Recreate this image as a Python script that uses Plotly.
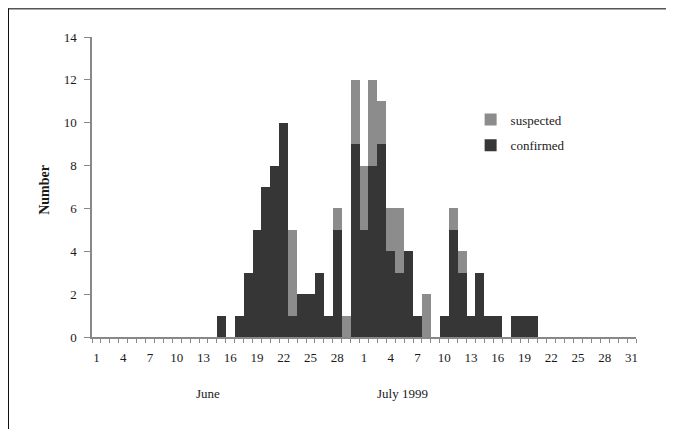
import plotly.graph_objects as go

# Days: June 1-30, July 1-31 (1999)
june_days = list(range(1, 31))
july_days = list(range(1, 32))
day_labels = [str(d) for d in june_days + july_days]

confirmed_june = [0]*14 + [1, 0, 1, 3, 5, 7, 8, 10, 1, 2, 2, 3, 1, 5, 0, 9]
suspected_june = [0]*14 + [0, 0, 0, 0, 0, 0, 0, 0, 4, 0, 0, 0, 0, 1, 1, 3]
confirmed_july = [5, 8, 9, 4, 3, 4, 1, 0, 0, 1, 5, 3, 1, 3, 1, 1, 0, 1, 1, 1] + [0]*11
suspected_july = [3, 4, 2, 2, 3, 0, 0, 2, 0, 0, 1, 1, 0, 0, 0, 0, 0, 0, 0, 0] + [0]*11

confirmed = confirmed_june + confirmed_july
suspected = suspected_june + suspected_july
x = list(range(len(day_labels)))

tick_idx = list(range(0, len(day_labels), 3))
tick_text = [day_labels[i] for i in tick_idx]

FONT = "Liberation Serif"
DARK = "#363636"
GRAY = "#8c8c8c"
TXT = "#1a1a1a"

fig = go.Figure()
fig.add_trace(go.Bar(x=x, y=confirmed, name="confirmed", marker=dict(color=DARK, line=dict(width=0)),
                     legendgroup="c", legendrank=2))
fig.add_trace(go.Bar(x=x, y=suspected, name="suspected", marker=dict(color=GRAY, line=dict(width=0)),
                     legendgroup="s", legendrank=1))

fig.update_layout(
    width=674, height=429,
    margin=dict(l=84, r=46, t=29, b=100),
    barmode="stack", bargap=0,
    plot_bgcolor="white", paper_bgcolor="white",
    font=dict(family=FONT, size=13, color=TXT),
    showlegend=True,
    legend=dict(x=0.696, y=0.775, xanchor="left", yanchor="top",
                traceorder="grouped", tracegroupgap=6,
                font=dict(family=FONT, size=13, color=TXT),
                bgcolor="rgba(0,0,0,0)", itemwidth=30),
    xaxis=dict(range=[-0.5, len(day_labels) - 0.5], tickmode="array",
               tickvals=tick_idx, ticktext=tick_text, ticks="",
               ticklabelstandoff=8,
               showline=True, linecolor="#888", linewidth=1.5,
               showgrid=False, zeroline=False,
               tickfont=dict(family=FONT, size=13, color=TXT),
               minor=dict(tickmode="linear", tick0=-0.5, dtick=1, ticks="outside",
                          ticklen=4, tickcolor="#888", tickwidth=1, showgrid=False)),
    yaxis=dict(range=[0, 14], tickmode="linear", tick0=0, dtick=2,
               ticks="outside", ticklen=6, tickcolor="#888", tickwidth=1,
               ticklabelstandoff=5,
               showline=True, linecolor="#888", linewidth=1.5,
               showgrid=False, zeroline=False,
               tickfont=dict(family=FONT, size=13, color=TXT)),
    annotations=[
        dict(text="June", x=0.188, y=-0.22, xref="paper", yref="paper",
             showarrow=False, font=dict(family=FONT, size=13, color=TXT)),
        dict(text="July 1999", x=0.57, y=-0.22, xref="paper", yref="paper",
             showarrow=False, font=dict(family=FONT, size=13, color=TXT)),
        dict(text="<b>Number</b>", x=-0.106, y=0.49, xref="paper", yref="paper",
             showarrow=False, textangle=-90, font=dict(family=FONT, size=14, color=TXT)),
    ],
    shapes=[
        dict(type="line", xref="paper", yref="paper", x0=-0.1544, x1=1.09, y0=1.095, y1=1.095,
             line=dict(color="#555", width=2)),
        dict(type="line", xref="paper", yref="paper", x0=-0.1544, x1=-0.1544, y0=1.095, y1=-0.4,
             line=dict(color="#111", width=2)),
    ],
)

fig.write_html("out.html")
